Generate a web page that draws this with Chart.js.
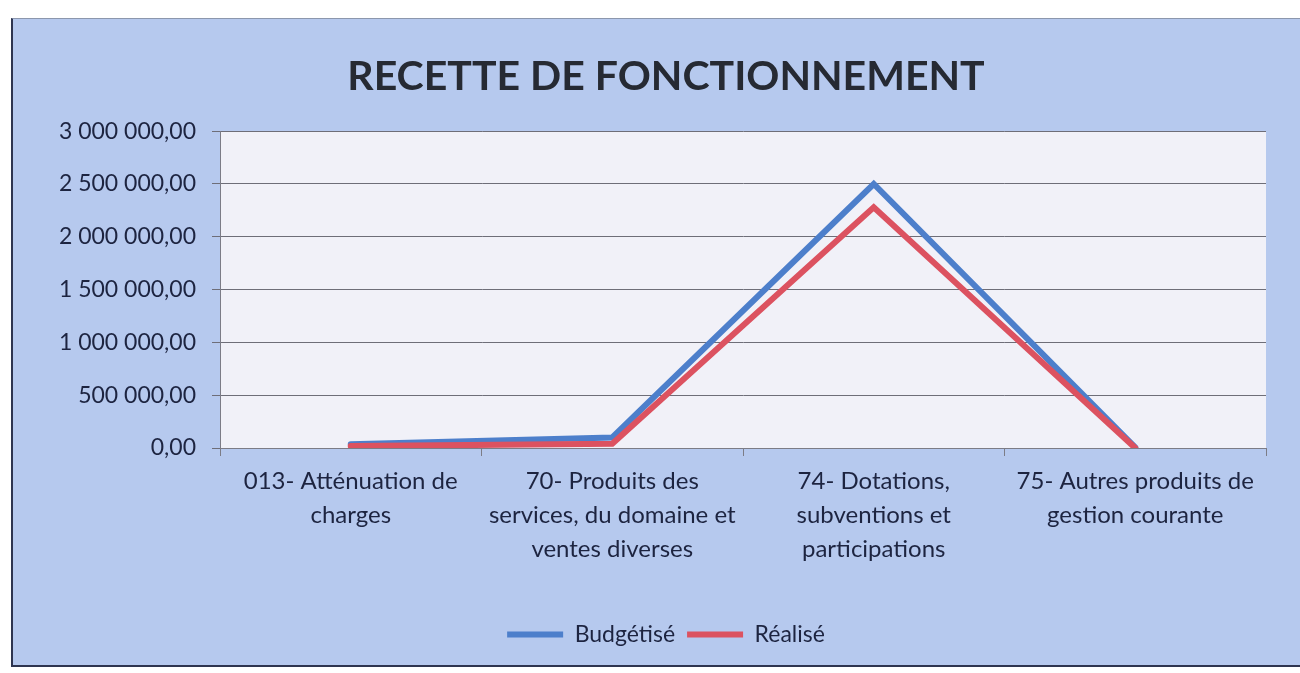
<!DOCTYPE html>
<html>
<head>
<meta charset="utf-8">
<script src="https://cdn.jsdelivr.net/npm/chart.js@4"></script>
<style>
  html, body { margin: 0; padding: 0; background: #ffffff; overflow: hidden; }
  #wrap {
    position: absolute; left: 11px; top: 18px; width: 1300px; height: 649px;
    background: #b6c9ee;
    border-left: 2px solid #2e3550; border-bottom: 2px solid #2e3550; border-top: 1px solid #8c97ad;
    box-sizing: border-box;
  }
</style>
</head>
<body>
<div id="wrap"><canvas id="chart"></canvas></div>
<script>
const categories = [
  ['013- Atténuation de', 'charges'],
  ['70- Produits des', 'services, du domaine et', 'ventes diverses'],
  ['74- Dotations,', 'subventions et', 'participations'],
  ['75- Autres produits de', 'gestion courante']
];
const budgetise = [35000, 100000, 2500000, 5000];
const realise = [18000, 40000, 2280000, 0];
const seriesNames = ['Budgétisé', 'Réalisé'];
const yTicks = [0, 500000, 1000000, 1500000, 2000000, 2500000, 3000000];

const fmt = (v) => {
  const s = Math.round(v).toString().replace(/\B(?=(\d{3})+(?!\d))/g, ' ');
  return s + ',00';
};

const plotBg = {
  id: 'plotBg',
  beforeDraw(chart) {
    const { ctx, chartArea: a } = chart;
    ctx.save();
    ctx.fillStyle = '#f1f1f8';
    ctx.fillRect(a.left, a.top, a.right - a.left, a.bottom - a.top);
    ctx.restore();
  }
};

const textColor = '#1d2440';

new Chart(document.getElementById('chart'), {
  type: 'line',
  data: {
    labels: categories,
    datasets: [
      { label: seriesNames[0], data: budgetise, borderColor: '#4d7fcb', backgroundColor: '#4d7fcb', borderWidth: 6, pointRadius: 0, borderJoinStyle: 'miter', borderCapStyle: 'round', order: 1 },
      { label: seriesNames[1], data: realise, borderColor: '#dc5260', backgroundColor: '#dc5260', borderWidth: 6, pointRadius: 0, borderJoinStyle: 'miter', borderCapStyle: 'round', order: 0 }
    ]
  },
  options: {
    responsive: true,
    maintainAspectRatio: false,
    animation: false,
    layout: { padding: { left: 45, right: 37, top: 0, bottom: 9 } },
    plugins: {
      title: {
        display: true,
        text: 'RECETTE DE FONCTIONNEMENT',
        color: '#262a33',
        font: { family: 'Lato', size: 41, weight: 'bold' },
        padding: { top: 33, bottom: 30 }
      },
      legend: {
        position: 'bottom',
        labels: {
          color: textColor,
          font: { family: 'Lato', size: 23 },
          usePointStyle: true,
          pointStyle: 'line',
          pointStyleWidth: 56,
          padding: 12,
          sort: (a, b) => a.datasetIndex - b.datasetIndex
        }
      },
      tooltip: { enabled: false }
    },
    scales: {
      x: {
        offset: true,
        grid: { offset: true, drawOnChartArea: false, drawTicks: true, tickLength: 8, color: '#7c7c86' },
        border: { color: '#7c7c86' },
        ticks: { color: textColor, font: { family: 'Lato', size: 24, lineHeight: 1.42 }, maxRotation: 0, autoSkip: false, padding: 8 },
        afterFit: (s) => { s.height = 163; }
      },
      y: {
        min: 0,
        max: 3000000,
        afterBuildTicks: (s) => { s.ticks = yTicks.map((v) => ({ value: v })); },
        grid: { color: '#6e6e78', tickLength: 8 },
        border: { color: '#7c7c86' },
        ticks: { color: textColor, font: { family: 'Lato', size: 23 }, padding: 16, callback: (v) => fmt(v) },
        afterFit: (s) => { s.width = 162; }
      },
      yRight: {
        position: 'right',
        grid: { display: false },
        border: { display: false },
        ticks: { display: false },
        afterFit: (s) => { s.width = 8; }
      }
    }
  },
  plugins: [plotBg]
});
</script>
</body>
</html>
